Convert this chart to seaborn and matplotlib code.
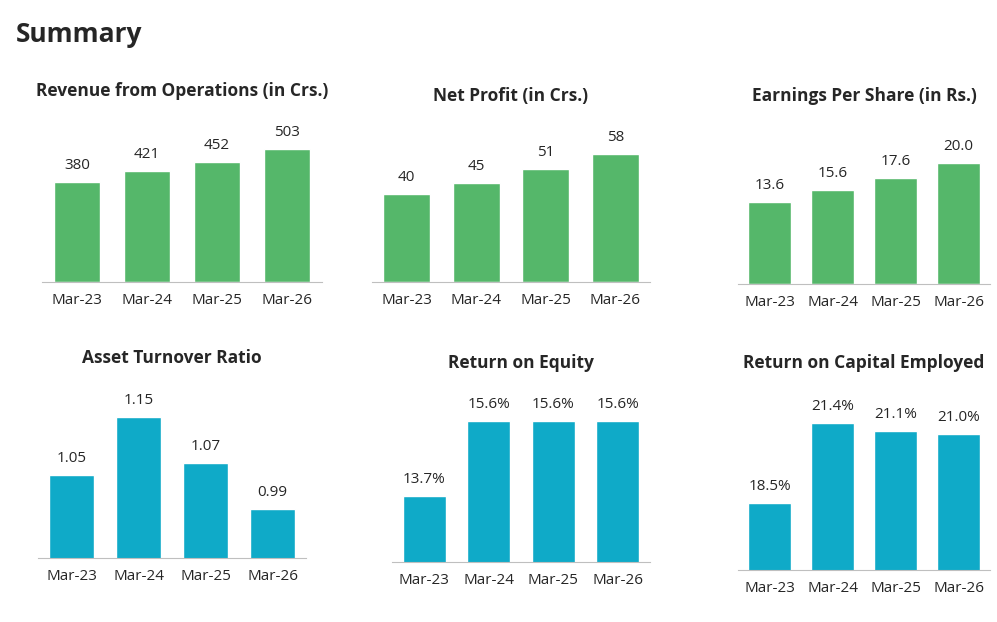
import matplotlib.pyplot as plt
import seaborn as sns
import pandas as pd

W, H = 997, 622
years = ["Mar-23", "Mar-24", "Mar-25", "Mar-26"]

revenue = [380, 421, 452, 503]
net_profit = [40, 45, 51, 58]
eps = [13.6, 15.6, 17.6, 20.0]
asset_turnover = [1.05, 1.15, 1.07, 0.99]
roe = [13.7, 15.6, 15.6, 15.6]
roce = [18.5, 21.4, 21.1, 21.0]

GREEN = "#55B76A"
TEAL = "#0FAAC8"

# title, values, label fmt, colour, left px, right px, baseline px, ymin, px per unit, title y px
panels = [
    ("Revenue from Operations (in Crs.)", revenue, "{:.0f}", GREEN, 42, 322, 282, 0, 133 / 503, 91),
    ("Net Profit (in Crs.)", net_profit, "{:.0f}", GREEN, 372, 650, 282, 0, 128 / 58, 96),
    ("Earnings Per Share (in Rs.)", eps, "{:.1f}", GREEN, 738, 990, 284, 0, 121 / 20, 96),
    ("Asset Turnover Ratio", asset_turnover, "{:.2f}", TEAL, 38, 306, 558, 0.905, 575, 358),
    ("Return on Equity", roe, "{:.1f}%", TEAL, 392, 650, 562, 12.03, 39.5, 363),
    ("Return on Capital Employed", roce, "{:.1f}%", TEAL, 738, 990, 570, 16.07, 27.6, 363),
]

sns.set_style("white")
plt.rcParams["font.family"] = ["Open Sans", "DejaVu Sans"]
fig = plt.figure(figsize=(W / 100, H / 100), dpi=100)
fig.text(16 / W, 1 - 34 / H, "Summary", fontsize=19, fontweight="bold", va="center")

AX_H = 190
for title, vals, fmt, col, l, r, base, ymin, ppu, ty in panels:
    ax = fig.add_axes([l / W, 1 - base / H, (r - l) / W, AX_H / H])
    df = pd.DataFrame({"year": years, "v": vals})
    sns.barplot(data=df, x="year", y="v", color=col, width=0.67, ax=ax, saturation=1)
    ax.set_ylim(ymin, ymin + AX_H / ppu)
    ax.set_xlim(-0.5, 3.5)
    for i, v in enumerate(vals):
        ax.text(i, v + 9 / ppu, fmt.format(v), ha="center", va="bottom", fontsize=11)
    for s in ["top", "right", "left"]:
        ax.spines[s].set_visible(False)
    ax.spines["bottom"].set_color("#BFBFBF")
    ax.set_yticks([])
    ax.set_xlabel("")
    ax.set_ylabel("")
    ax.set_xticks([-0.5, 0.5, 1.5, 2.5, 3.5], minor=True)
    ax.tick_params(axis="x", which="minor", length=6, color="#BFBFBF")
    ax.tick_params(axis="x", which="major", length=0, labelsize=11, pad=8)
    fig.text((l + r) / 2 / W, 1 - ty / H, title, ha="center", va="center",
             fontsize=12.5, fontweight="bold")

fig.savefig("out.png", dpi=100)
